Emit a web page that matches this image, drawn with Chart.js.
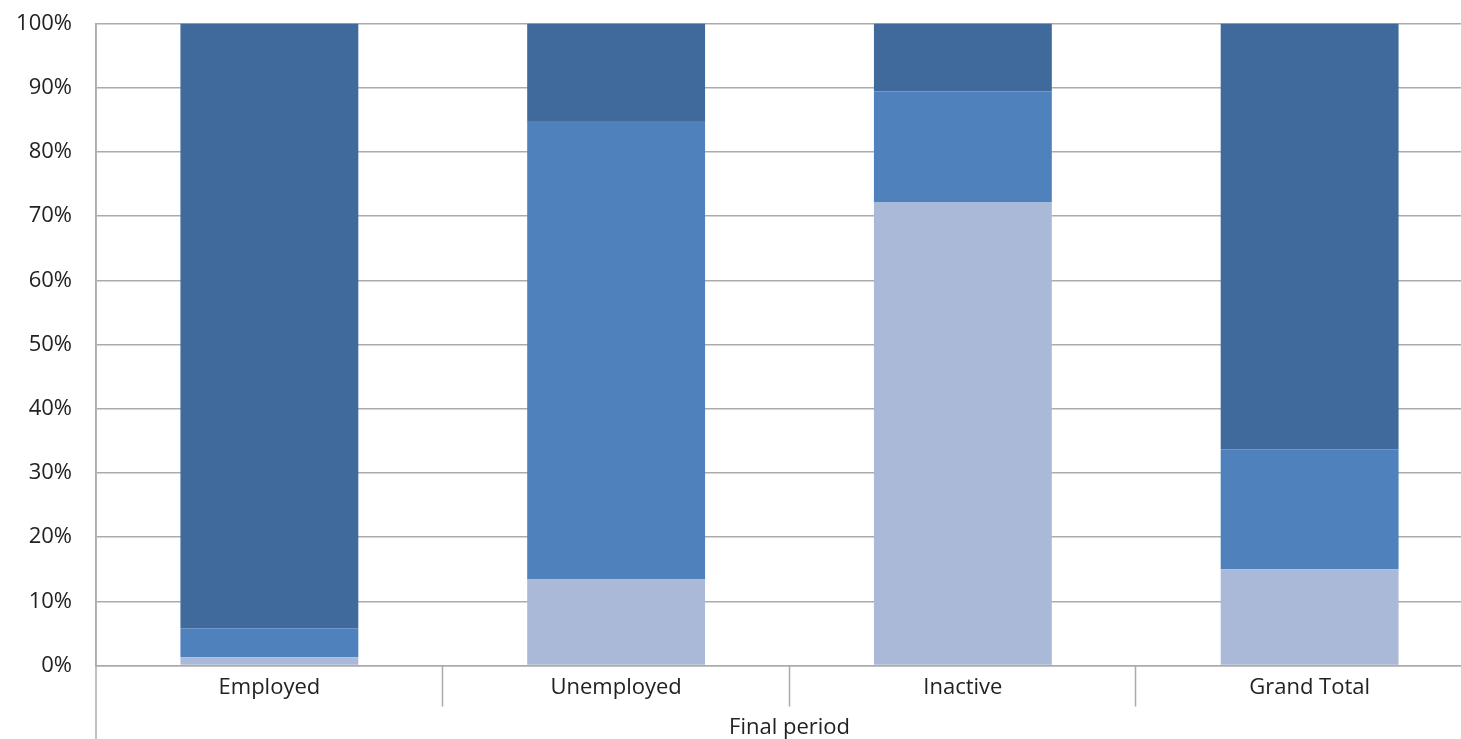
<!DOCTYPE html>
<html>
<head>
<meta charset="utf-8">
<script src="https://cdn.jsdelivr.net/npm/chart.js@4"></script>
<style>
  html, body { margin: 0; padding: 0; background: #fff; overflow: hidden; }
  #wrap { position: absolute; left: 0; top: 0; width: 1500px; height: 739px; }
</style>
</head>
<body>
<div id="wrap"><canvas id="c"></canvas></div>
<script>
const categories = ['Employed', 'Unemployed', 'Inactive', 'Grand Total'];
const seriesLight  = [1.3, 13.4, 72.1, 15.0];
const seriesMedium = [4.5, 71.4, 17.3, 18.7];
const seriesDark   = [94.2, 15.2, 10.6, 66.3];
const yTicks = [0, 10, 20, 30, 40, 50, 60, 70, 80, 90, 100];
const axisTitle = 'Final period';

const FONT = "'Open Sans', 'Liberation Sans', sans-serif";
const GRID = '#ababab';

const separators = {
  id: 'separators',
  afterDraw(chart) {
    const x = chart.scales.x, ctx = chart.ctx, area = chart.chartArea;
    ctx.save();
    ctx.strokeStyle = GRID;
    ctx.lineWidth = 1.5;
    for (let i = 0; i < categories.length - 1; i++) {
      const bx = (x.getPixelForValue(i) + x.getPixelForValue(i + 1)) / 2;
      ctx.beginPath();
      ctx.moveTo(Math.round(bx) - 0.5, area.bottom);
      ctx.lineTo(Math.round(bx) - 0.5, area.bottom + 41);
      ctx.stroke();
    }
    ctx.beginPath();
    ctx.moveTo(area.left, area.top);
    ctx.lineTo(area.left, chart.height);
    ctx.stroke();
    ctx.restore();
  }
};

new Chart(document.getElementById('c'), {
  type: 'bar',
  data: {
    labels: categories,
    datasets: [
      { label: 'Light', data: seriesLight, backgroundColor: '#aab9d7', barPercentage: 0.513, categoryPercentage: 1.0 },
      { label: 'Medium', data: seriesMedium, backgroundColor: '#4f81bd', barPercentage: 0.513, categoryPercentage: 1.0 },
      { label: 'Dark', data: seriesDark, backgroundColor: '#3f6a9b', barPercentage: 0.513, categoryPercentage: 1.0 }
    ]
  },
  options: {
    responsive: true,
    maintainAspectRatio: false,
    animation: false,
    layout: { padding: { top: 23.5, right: 17, left: 0, bottom: 0 } },
    plugins: { legend: { display: false }, tooltip: { enabled: false } },
    scales: {
      x: {
        stacked: true,
        grid: { display: false, drawTicks: false },
        border: { display: true, color: GRID, width: 1.5 },
        ticks: { color: '#222', font: { family: FONT, size: 22 }, padding: 9 },
        title: { display: true, text: axisTitle, color: '#222', font: { family: FONT, size: 22 }, padding: { top: 7, bottom: -2 } },
        afterFit(s) { s.height = 73.5; s.paddingLeft = 0; s.paddingRight = 0; }
      },
      y: {
        stacked: true,
        min: 0, max: 100,
        afterBuildTicks(s) { s.ticks = yTicks.map(v => ({ value: v })); },
        grid: { color: GRID, lineWidth: 1.5, drawTicks: false },
        border: { display: true, color: GRID, width: 1.5 },
        ticks: { color: '#222', font: { family: FONT, size: 22 }, padding: 24, callback: v => v + '%' },
        afterFit(s) { s.width = 96; s.paddingTop = 0; s.paddingBottom = 0; }
      }
    }
  },
  plugins: [separators]
});
</script>
</body>
</html>
